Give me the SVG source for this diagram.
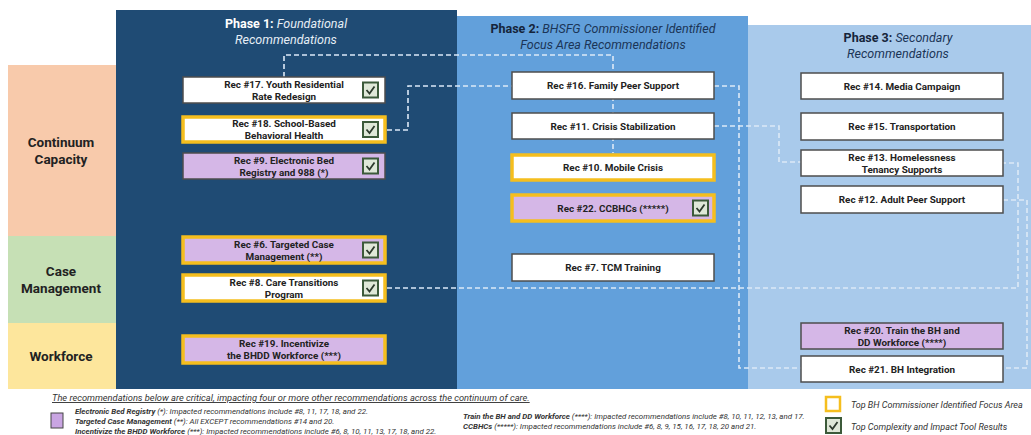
<svg xmlns="http://www.w3.org/2000/svg" width="1031" height="435" viewBox="0 0 1031 435">
<style>
text{font-family:Roboto,"Liberation Sans",sans-serif}
.hdr{font-size:12.5px}
.b{font-weight:bold}
.i{font-style:italic}
.row{font-size:13.5px;font-weight:bold;fill:#222;text-anchor:middle}
.lbl{font-size:9.9px;font-weight:bold;fill:#222;text-anchor:middle}
.box{stroke:#4d4d4d;stroke-width:1.5}
.w{fill:#fff}
.p{fill:#d5b7e7}
.y{stroke:#f5be1e;stroke-width:3.5}
.con{fill:none;stroke:#dce9f7;stroke-width:1.6;stroke-dasharray:5 3}
.leg{font-size:7.9px;fill:#333;font-style:italic}
.leg.big{font-size:9px}
.leg.note{font-size:9.3px;text-decoration:underline}
</style>
<defs>
<g id="chk">
<rect x="0" y="0" width="15" height="15" fill="#dfe8d8" stroke="#3c5a3a" stroke-width="2"/>
<polyline points="3.5,7.5 6.5,11 11.5,4" fill="none" stroke="#2d3a2d" stroke-width="1.8"/>
</g>
</defs>
<rect width="1031" height="435" fill="#fff"/>
<!-- rows -->
<rect x="8" y="65" width="110" height="171" fill="#f8caab"/>
<rect x="8" y="236" width="110" height="87" fill="#c6e0b5"/>
<rect x="8" y="323" width="110" height="66" fill="#fde69c"/>
<text class="row" x="61" y="147">Continuum</text>
<text class="row" x="61" y="164">Capacity</text>
<text class="row" x="61" y="276">Case</text>
<text class="row" x="61" y="293">Management</text>
<text class="row" x="61" y="361">Workforce</text>
<!-- phases -->
<rect x="116" y="10" width="341" height="379" fill="#1f4b74"/>
<rect x="457" y="16" width="291" height="373" fill="#62a0db"/>
<rect x="748" y="25" width="283" height="364" fill="#a9caeb"/>
<text class="hdr" x="286" y="28" text-anchor="middle"><tspan class="b" fill="#fff">Phase 1: </tspan><tspan class="i" fill="#e6eef6">Foundational</tspan></text>
<text class="hdr i" x="286" y="44" text-anchor="middle" fill="#e6eef6">Recommendations</text>
<text class="hdr" x="603" y="33" text-anchor="middle"><tspan class="b" fill="#15243a">Phase 2: </tspan><tspan class="i" fill="#1b3557">BHSFG Commissioner Identified</tspan></text>
<text class="hdr i" x="603" y="49" text-anchor="middle" fill="#1b3557">Focus Area Recommendations</text>
<text class="hdr" x="898" y="42" text-anchor="middle"><tspan class="b" fill="#15243a">Phase 3: </tspan><tspan class="i" fill="#1b3557">Secondary</tspan></text>
<text class="hdr i" x="898" y="58" text-anchor="middle" fill="#1b3557">Recommendations</text>
<!-- connectors -->
<g id="connectors">
<path class="con" d="M284,77 V55 H613 V153"/>
<path class="con" d="M387,130 H408 V86 H512"/>
<path class="con" d="M714,86 H739 V368 H801"/>
<path class="con" d="M714,126 H779 V162 H801"/>
<path class="con" d="M387,288 H1018 V163 H1003"/>
<path class="con" d="M1003,200 H1027 V368 H1003"/>
</g>
<!-- phase 1 nodes -->
<g id="rec17"><rect class="box w" x="183" y="77" width="202" height="26"/><text class="lbl" x="284" y="87.5">Rec #17. Youth Residential</text><text class="lbl" x="284" y="99.5">Rate Redesign</text><use href="#chk" x="363" y="82.5"/></g>
<g id="rec18"><rect class="w y" x="183" y="117" width="202" height="25"/><text class="lbl" x="284" y="127">Rec #18. School-Based</text><text class="lbl" x="284" y="139">Behavioral Health</text><use href="#chk" x="363" y="122"/></g>
<g id="rec9"><rect class="box p" x="183" y="153" width="202" height="26"/><text class="lbl" x="284" y="163.5">Rec #9. Electronic Bed</text><text class="lbl" x="284" y="175.5">Registry and 988 (*)</text><use href="#chk" x="363" y="158.5"/></g>
<g id="rec6"><rect class="p y" x="183" y="237" width="202" height="26"/><text class="lbl" x="284" y="247.5">Rec #6. Targeted Case</text><text class="lbl" x="284" y="259.5">Management (**)</text><use href="#chk" x="363" y="242.5"/></g>
<g id="rec8"><rect class="w y" x="183" y="275" width="202" height="26"/><text class="lbl" x="284" y="285.5">Rec #8. Care Transitions</text><text class="lbl" x="284" y="297.5">Program</text><use href="#chk" x="363" y="280.5"/></g>
<g id="rec19"><rect class="p y" x="183" y="336" width="202" height="27"/><text class="lbl" x="284" y="347">Rec #19. Incentivize</text><text class="lbl" x="284" y="359">the BHDD Workforce (***)</text></g>
<!-- phase 2 nodes -->
<g id="rec16"><rect class="box w" x="512" y="72" width="202" height="27"/><text class="lbl" x="613" y="89">Rec #16. Family Peer Support</text></g>
<g id="rec11"><rect class="box w" x="512" y="113" width="202" height="26"/><text class="lbl" x="613" y="129.5">Rec #11. Crisis Stabilization</text></g>
<g id="rec10"><rect class="w y" x="512" y="155" width="202" height="25"/><text class="lbl" x="613" y="171">Rec #10. Mobile Crisis</text></g>
<g id="rec22"><rect class="p y" x="512" y="195" width="202" height="26"/><text class="lbl" x="613" y="211.5">Rec #22. CCBHCs (*****)</text><use href="#chk" x="693" y="200.5"/></g>
<g id="rec7"><rect class="box w" x="512" y="254" width="202" height="27"/><text class="lbl" x="613" y="271">Rec #7. TCM Training</text></g>
<!-- phase 3 nodes -->
<g id="rec14"><rect class="box w" x="801" y="73" width="202" height="26"/><text class="lbl" x="902" y="89.5">Rec #14. Media Campaign</text></g>
<g id="rec15"><rect class="box w" x="801" y="113" width="202" height="27"/><text class="lbl" x="902" y="130">Rec #15. Transportation</text></g>
<g id="rec13"><rect class="box w" x="801" y="150" width="202" height="26"/><text class="lbl" x="902" y="160.5">Rec #13. Homelessness</text><text class="lbl" x="902" y="172.5">Tenancy Supports</text></g>
<g id="rec12"><rect class="box w" x="801" y="186" width="202" height="27"/><text class="lbl" x="902" y="202.5">Rec #12. Adult Peer Support</text></g>
<g id="rec20"><rect class="box p" x="801" y="323" width="202" height="26"/><text class="lbl" x="902" y="333.5">Rec #20. Train the BH and</text><text class="lbl" x="902" y="345.5">DD Workforce (****)</text></g>
<g id="rec21"><rect class="box w" x="801" y="356" width="202" height="26"/><text class="lbl" x="902" y="372.5">Rec #21. BH Integration</text></g>
<!-- legend -->
<g id="legend">
<text class="leg note" x="52" y="401">The recommendations below are critical, impacting four or more other recommendations across the continuum of care.</text>
<rect x="51" y="413" width="12" height="15" fill="#c9a5e2" stroke="#444" stroke-width="1"/>
<text class="leg" x="75" y="414"><tspan font-weight="bold">Electronic Bed Registry</tspan> (*): Impacted recommendations include #8, 11, 17, 18, and 22.</text>
<text class="leg" x="75" y="424"><tspan font-weight="bold">Targeted Case Management</tspan> (**): All EXCEPT recommendations #14 and 20.</text>
<text class="leg" x="75" y="434"><tspan font-weight="bold">Incentivize the BHDD Workforce</tspan> (***): Impacted recommendations include #6, 8, 10, 11, 13, 17, 18, and 22.</text>
<text class="leg" x="463" y="418.5"><tspan font-weight="bold">Train the BH and DD Workforce</tspan> (****): Impacted recommendations include #8, 10, 11, 12, 13, and 17.</text>
<text class="leg" x="463" y="429"><tspan font-weight="bold">CCBHCs</tspan> (*****): Impacted recommendations include #6, 8, 9, 15, 16, 17, 18, 20 and 21.</text>
<rect x="826" y="397" width="14" height="14" fill="#fff" stroke="#f5be1e" stroke-width="2.5"/>
<text class="leg big" x="851" y="407.5">Top BH Commissioner Identified Focus Area</text>
<use href="#chk" x="826" y="418"/>
<text class="leg big" x="851" y="429.5">Top Complexity and Impact Tool Results</text>
</g>
</svg>
